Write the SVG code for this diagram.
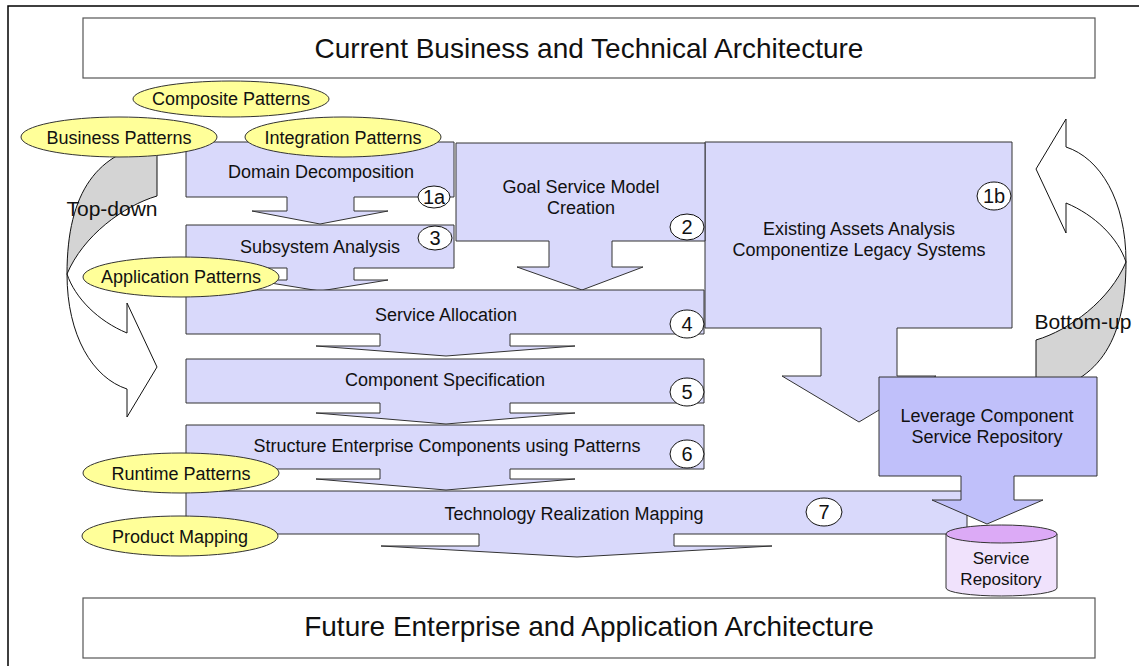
<svg xmlns="http://www.w3.org/2000/svg" width="1139" height="666" viewBox="0 0 1139 666">
<style>
text{font-family:"Liberation Sans",Arial,sans-serif;fill:#111;text-anchor:middle}
.t{font-size:18px}
.title{font-size:28px}
.big{font-size:21px}
.num{font-size:20px}
.step{fill:#d9d9fb;stroke:#333;stroke-width:1}
.lev{fill:#c0c0fa;stroke:#333;stroke-width:1}
.pat{fill:#ffff99;stroke:#333;stroke-width:1}
.circ{fill:#fff;stroke:#111;stroke-width:1}
.hdr{fill:#fff;stroke:#555;stroke-width:1.2}
.front{fill:#fff;stroke:#111;stroke-width:1}
.back{fill:#d4d4d4;stroke:#111;stroke-width:1}
</style>
<defs>
<g id="curved">
<path class="back" d="M1036,340 C1070,330 1110,300 1126,262 C1126,345 1095,385 1036,393 Z"/>
<path class="front" d="M1036,169 L1066,119 L1066,147 C1100,158 1126,200 1126,262 C1118,238 1095,215 1066,203 L1066,233 Z"/>
</g>
</defs>
<rect x="8" y="6" width="1200" height="720" fill="#fff" stroke="#000" stroke-width="1.5"/>
<g id="current">
<rect class="hdr" x="83" y="18" width="1012" height="60"/>
<text class="title" x="589" y="58">Current Business and Technical Architecture</text>
</g>
<g id="future">
<rect class="hdr" x="83" y="598" width="1012" height="60"/>
<text class="title" x="589" y="636">Future Enterprise and Application Architecture</text>
</g>
<g id="connectors">
<use href="#curved" transform="rotate(180 596.5 268)"/>
<use href="#curved"/>
</g>
<g id="existing">
<path class="step" d="M705,142 H1012 V328 H897 V376 H936 L859,422 L782,376 H821 V328 H705 Z"/>
<text class="t" x="859" y="235">Existing Assets Analysis</text>
<text class="t" x="859" y="256">Componentize Legacy Systems</text>
<ellipse class="circ" cx="994" cy="196" rx="17" ry="14"/>
<text class="num" x="994" y="203">1b</text>
</g>
<g id="goal">
<path class="step" d="M456,143 H705 V241 H612 V267 H643 L582,290 L517,267 H549 V241 H456 Z"/>
<text class="t" x="581" y="193">Goal Service Model</text>
<text class="t" x="581" y="214">Creation</text>
<ellipse class="circ" cx="687" cy="227" rx="17" ry="13"/>
<text class="num" x="687" y="234">2</text>
</g>
<g id="domain">
<path class="step" d="M186,142 H454 V197 H354 V211 H388 L320,224 L252,211 H287 V197 H186 Z"/>
<text class="t" x="321" y="178">Domain Decomposition</text>
<ellipse class="circ" cx="434" cy="197" rx="16" ry="11"/>
<text class="num" x="434" y="204">1a</text>
</g>
<g id="subsystem">
<path class="step" d="M186,225 H454 V268 H354 V280 H388 L320,291 L252,280 H287 V268 H186 Z"/>
<text class="t" x="320" y="253">Subsystem Analysis</text>
<ellipse class="circ" cx="435" cy="238" rx="17" ry="12"/>
<text class="num" x="435" y="245">3</text>
</g>
<g id="allocation">
<path class="step" d="M186,290 H704 V334 H510 V346 H575 L446,356 L316,346 H380 V334 H186 Z"/>
<text class="t" x="446" y="321">Service Allocation</text>
<ellipse class="circ" cx="687" cy="324" rx="17" ry="14"/>
<text class="num" x="687" y="331">4</text>
</g>
<g id="specification">
<path class="step" d="M186,359 H704 V403 H510 V413 H575 L446,424 L316,413 H380 V403 H186 Z"/>
<text class="t" x="445" y="386">Component Specification</text>
<ellipse class="circ" cx="687" cy="392" rx="17" ry="14"/>
<text class="num" x="687" y="399">5</text>
</g>
<g id="structure">
<path class="step" d="M186,425 H704 V469 H510 V479 H575 L446,490 L316,479 H380 V469 H186 Z"/>
<text class="t" x="447" y="452">Structure Enterprise Components using Patterns</text>
<ellipse class="circ" cx="687" cy="454" rx="17" ry="14"/>
<text class="num" x="687" y="461">6</text>
</g>
<g id="technology">
<path class="step" d="M186,491 H967 V534 H674 V546 H772 L577,557 L381,546 H479 V534 H186 Z"/>
<text class="t" x="574" y="520">Technology Realization Mapping</text>
<ellipse class="circ" cx="824" cy="512" rx="18" ry="14"/>
<text class="num" x="824" y="519">7</text>
</g>
<g id="leverage">
<path class="lev" d="M879,377 H1097 V476 H1014 V500 H1043 L987,524 L932,500 H961 V476 H879 Z"/>
<text class="t" x="987" y="422">Leverage Component</text>
<text class="t" x="987" y="443">Service Repository</text>
</g>
<g id="repository">
<path d="M946,534 V588 A55.5,8 0 0 0 1057,588 V534" fill="#f0e2fc" stroke="#333" stroke-width="1"/>
<ellipse cx="1001.5" cy="534" rx="55.5" ry="9" fill="#dcaaf6" stroke="#333" stroke-width="1"/>
<text class="t" style="font-size:17px" x="1001" y="564">Service</text>
<text class="t" style="font-size:17px" x="1001" y="585">Repository</text>
</g>
<g id="composite">
<ellipse class="pat" cx="231" cy="99" rx="98" ry="18"/>
<text class="t" x="231" y="105">Composite Patterns</text>
</g>
<g id="business">
<ellipse class="pat" cx="119" cy="137" rx="98" ry="20"/>
<text class="t" x="119" y="144">Business Patterns</text>
</g>
<g id="integration">
<ellipse class="pat" cx="343" cy="137" rx="98" ry="20"/>
<text class="t" x="343" y="144">Integration Patterns</text>
</g>
<g id="application">
<ellipse class="pat" cx="181" cy="277" rx="98" ry="20"/>
<text class="t" x="181" y="283">Application Patterns</text>
</g>
<g id="runtime">
<ellipse class="pat" cx="181" cy="473" rx="98" ry="20"/>
<text class="t" x="181" y="480">Runtime Patterns</text>
</g>
<g id="product">
<ellipse class="pat" cx="180" cy="536" rx="98" ry="20"/>
<text class="t" x="180" y="543">Product Mapping</text>
</g>
<g id="labels">
<text class="big" x="112" y="216">Top-down</text>
<text class="big" x="1083" y="329">Bottom-up</text>
</g>
</svg>
